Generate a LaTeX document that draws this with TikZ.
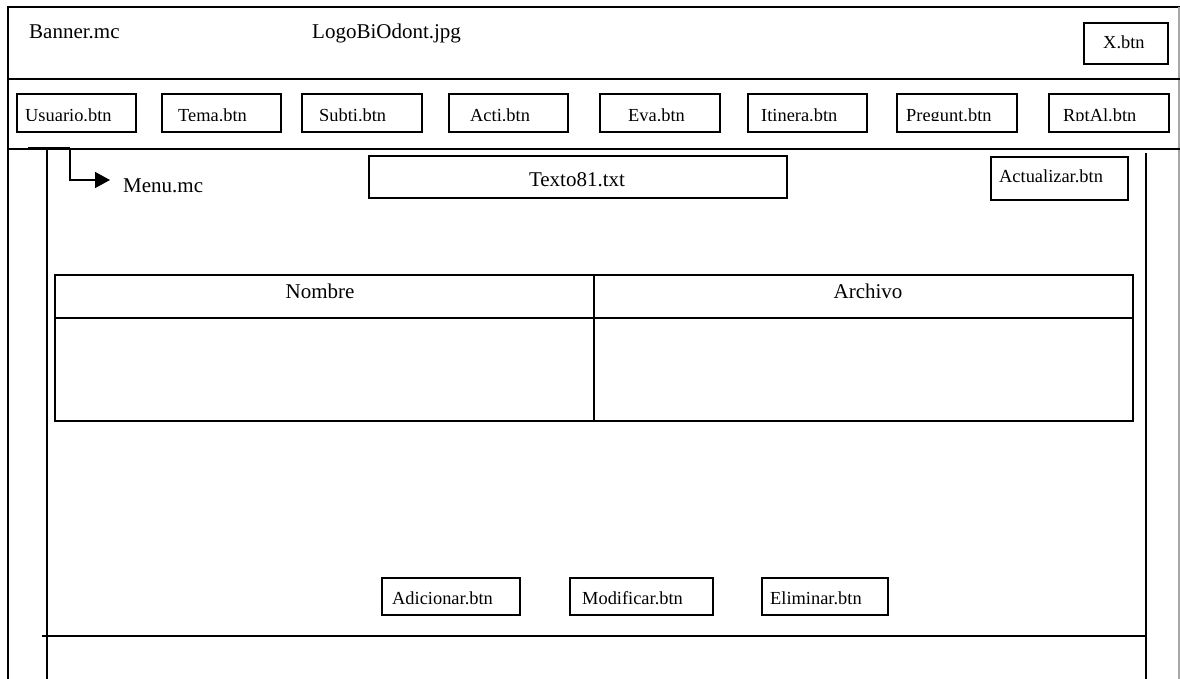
\documentclass[tikz,border=0pt]{standalone}
\usepackage{fontspec}
\setmainfont{Liberation Serif}
\usetikzlibrary{arrows.meta}

% Box with a label that is cut off by the inner bottom margin of the box
\newcommand\uibutton[7]{%
  \node[btn, minimum width={#4-#2}, minimum height={#5-#3}, anchor=north west] (#1) at (#2,#3) {};
  \begin{scope}
    \clip (#2,#3) rectangle (#4,#5-10);
    \node[smalltxt, anchor=base west] (#1-t) at (#6,#5-9.2) {#7};
  \end{scope}}

\begin{document}
\begin{tikzpicture}[x=1pt, y=-1pt,
  frame/.style={line width=1.6pt, black},
  btn/.style={draw, line width=1.7pt, inner sep=0pt},
  tbl/.style={line width=2.6pt, black},
  bigtxt/.style={inner sep=0pt, font=\fontsize{21}{24}\selectfont},
  smalltxt/.style={inner sep=0pt, font=\fontsize{18.4}{21}\selectfont},
  pointer/.style={line width=1.6pt, -{Triangle[length=15pt,width=16pt]}}]

\useasboundingbox (0,0) rectangle (1180,679);

% window frame and horizontal bands
\draw[frame] (8,679) -- (8,7) -- (1180,7);
\draw[line width=1.2pt, black!35] (1179,7) -- (1179,679);
\draw[frame] (8,79) -- (1180,79);
\draw[frame] (8,149) -- (1180,149);

% inner content panel
\draw[frame] (47,149) -- (47,679);
\draw[frame] (1146,153) -- (1146,679);
\draw[frame] (42,636) -- (1146,636);

% banner row
\node[bigtxt, anchor=base west] (banner) at (29,39) {Banner.mc};
\node[bigtxt, anchor=base west] (logo) at (312,39) {LogoBiOdont.jpg};
\node[btn, minimum width=84pt, minimum height=41pt, anchor=north west] (xbtn) at (1083,22) {};
\node[smalltxt, anchor=base west] (xbtn-t) at (1103,49) {X.btn};

% menu buttons
\uibutton{usuario}{16}{93}{135}{131}{25}{Usuario.btn}
\uibutton{tema}{161}{93}{280}{131}{178}{Tema.btn}
\uibutton{subti}{301}{93}{421}{131}{319}{Subti.btn}
\uibutton{acti}{448}{93}{567}{131}{470}{Acti.btn}
\uibutton{eva}{599}{93}{719}{131}{628}{Eva.btn}
\uibutton{itinera}{747}{93}{866}{131}{761}{Itinera.btn}
\uibutton{pregunt}{896}{93}{1016}{131}{906}{Pregunt.btn}
\uibutton{rptal}{1048}{93}{1168}{131}{1063}{RptAl.btn}

% menu movie clip pointer
\coordinate (menustub) at (28,148);
\coordinate (menuorigin) at (70,148);
\coordinate (menutip) at (110,180);
\draw[line width=2.2pt] (menustub) -- (menuorigin);
\draw[pointer] (menuorigin) |- (menutip);
\node[bigtxt, anchor=base west] (menu) at (123,193) {Menu.mc};

% text field and refresh button
\node[btn, minimum width=418pt, minimum height=42pt, anchor=north west] (texto) at (368,155) {};
\node[bigtxt, anchor=base] (texto-t) at (577,187) {Texto81.txt};
\node[btn, minimum width=137pt, minimum height=43pt, anchor=north west] (actualizar) at (990,156) {};
\node[smalltxt, anchor=base west] (actualizar-t) at (999,183) {Actualizar.btn};

% data table
\draw[tbl] (55,275) rectangle (1133,421);
\draw[tbl] (55,318) -- (1133,318);
\draw[tbl] (594,275) -- (594,421);
\node[bigtxt, anchor=base] (nombre) at (320,298) {Nombre};
\node[bigtxt, anchor=base] (archivo) at (868,298) {Archivo};

% action buttons
\uibutton{adicionar}{381}{577}{519}{614}{392}{Adicionar.btn}
\uibutton{modificar}{569}{577}{712}{614}{582}{Modificar.btn}
\uibutton{eliminar}{761}{577}{887}{614}{770}{Eliminar.btn}

\end{tikzpicture}
\end{document}
